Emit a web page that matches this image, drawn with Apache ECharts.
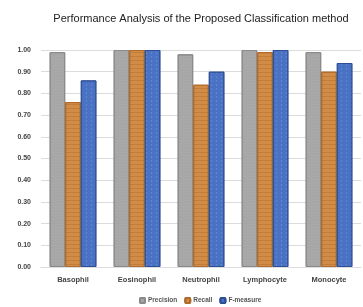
<!DOCTYPE html>
<html><head><meta charset="utf-8">
<script src="https://cdn.jsdelivr.net/npm/echarts@6/dist/echarts.min.js"></script>
<style>html,body{margin:0;padding:0;background:#fff}#c{width:363px;height:307px}</style>
</head><body><div id="c"></div>
<script>
const categories = ['Basophil','Eosinophil','Neutrophil','Lymphocyte','Monocyte'];
const precision = [0.99, 1.00, 0.98, 1.00, 0.99];
const recall = [0.76, 1.00, 0.84, 0.99, 0.90];
const fmeasure = [0.86, 1.00, 0.90, 1.00, 0.94];
const yTicks = [0, 0.1, 0.2, 0.3, 0.4, 0.5, 0.6, 0.7, 0.8, 0.9, 1.0];

const chart = echarts.init(document.getElementById('c'));
const font = 'Liberation Sans, sans-serif';
function ser(name, data, color, border, decal) {
  return {
    name, type: 'bar', data,
    barGap: '0%', barCategoryGap: '27%',
    itemStyle: { color: color, borderColor: border, borderWidth: 1, decal: decal },
    emphasis: { disabled: true }
  };
}
chart.setOption({
  animation: false,
  aria: { enabled: false },
  title: {
    text: 'Performance Analysis of the Proposed Classification method',
    left: 196, textAlign: 'center', top: 8,
    textStyle: { fontFamily: font, fontSize: 11, fontWeight: 'normal', color: '#222' }
  },
  grid: { left: 41, right: 2, top: 50, bottom: 40 },
  legend: {
    data: ['Precision', 'Recall', 'F-measure'],
    top: 292, left: 134,
    itemWidth: 5, itemHeight: 5, itemGap: 7,
    textStyle: { fontFamily: font, fontSize: 6.5, color: '#555', fontWeight: 'bold', padding: [0, 0, 0, -2] }
  },
  xAxis: {
    type: 'category', data: categories,
    axisLine: { show: true, lineStyle: { color: '#ddd' } },
    axisTick: { show: false },
    axisLabel: { fontFamily: font, fontSize: 7.5, fontWeight: 'bold', color: '#444', margin: 9 }
  },
  yAxis: {
    type: 'value', min: 0, max: 1, interval: 0.1,
    axisLine: { show: false }, axisTick: { show: false },
    axisLabel: { fontFamily: font, fontSize: 7, fontWeight: 'bold', color: '#444', margin: 10,
      formatter: v => yTicks.some(t => Math.abs(t - v) < 1e-9) ? v.toFixed(2) : '' },
    splitLine: { lineStyle: { color: '#dcdcdc', width: 1 } }
  },
  series: [
    ser('Precision', precision, '#a9a9a9', '#8a8a8a',
      { symbol: 'circle', symbolSize: 0.35, color: 'rgba(90,90,90,0.45)', dashArrayX: [2, 0], dashArrayY: [2, 1] }),
    ser('Recall', recall, '#d28c45', '#b06a2a',
      { symbol: 'rect', symbolSize: 1, color: 'rgba(140,80,30,0.25)', dashArrayX: [1, 0], dashArrayY: [1, 3] }),
    ser('F-measure', fmeasure, '#4a72c4', '#2d4f95',
      { symbol: 'rect', symbolSize: 0.4, color: 'rgba(200,215,245,0.45)', dashArrayX: [3, 2], dashArrayY: [2, 2] })
  ]
});
</script></body></html>
